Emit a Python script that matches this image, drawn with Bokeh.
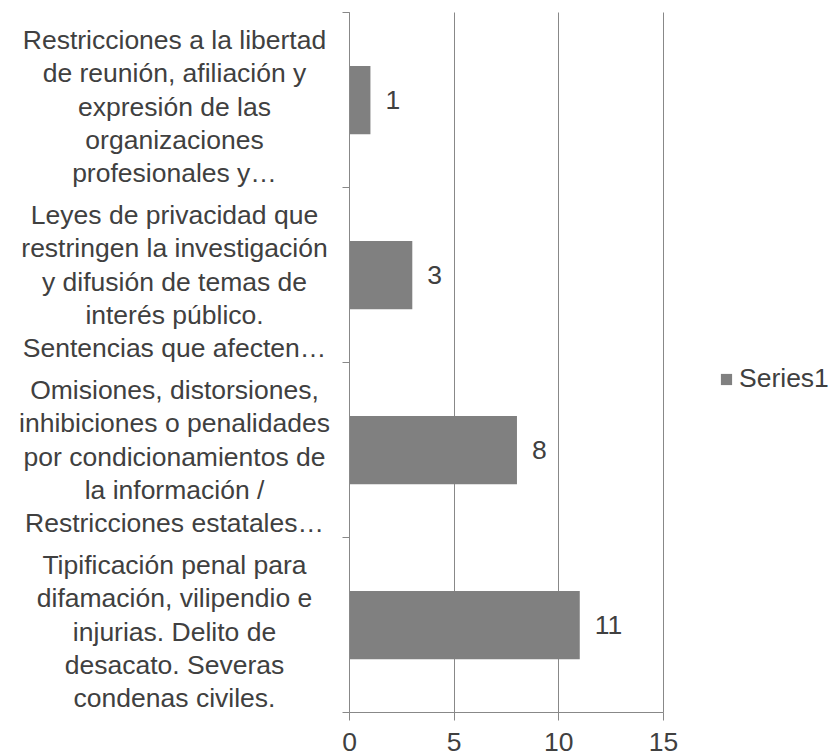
from bokeh.plotting import figure
from bokeh.models import (Range1d, FixedTicker, ColumnDataSource, Legend, LegendItem,
                          CustomJSTickFormatter)
from bokeh.embed import file_html
from bokeh.resources import INLINE
from bokeh.core.properties import value

# ---------------- data ----------------
category_lines = [
    ["Restricciones a la libertad", "de reunión, afiliación y", "expresión de las",
     "organizaciones", "profesionales y…"],
    ["Leyes de privacidad que", "restringen la investigación", "y difusión de temas de",
     "interés público.", "Sentencias que afecten…"],
    ["Omisiones, distorsiones,", "inhibiciones o penalidades", "por condicionamientos de",
     "la información /", "Restricciones estatales…"],
    ["Tipificación penal para", "difamación, vilipendio e", "injurias. Delito de",
     "desacato. Severas", "condenas civiles."],
]
values = [1, 3, 8, 11]
x_ticks = [0, 5, 10, 15]
series_name = "Series1"

# ---------------- styling / layout ----------------
FONT = "Liberation Sans"
TEXT_COLOR = "#404040"
BAR_COLOR = "#808080"
LINE_COLOR = "#888888"
FS = "26.5px"

W, H = 829, 756
X0_PX, X15_PX = 349, 663        # pixel position of value 0 and 15
TOP_PX, BOTTOM_PX = 12, 712     # top / bottom of the category area
x_max = 15
ppu = (X15_PX - X0_PX) / x_max
n = len(values)
ppc = (BOTTOM_PX - TOP_PX) / n

x_range = Range1d(-X0_PX / ppu, (W - X0_PX) / ppu)
y_range = Range1d(-(H - BOTTOM_PX) / ppc, n + TOP_PX / ppc)

p = figure(width=W, height=H, output_backend="svg", toolbar_location=None,
           x_range=x_range, y_range=y_range,
           min_border_left=0, min_border_right=0,
           min_border_top=0, min_border_bottom=0)
p.outline_line_color = None
p.background_fill_color = "white"
p.border_fill_color = "white"

ypos = [n - 0.5 - i for i in range(n)]

# grid (vertical lines only over the category area)
p.ygrid.grid_line_color = None
p.xgrid.ticker = FixedTicker(ticks=x_ticks)
p.xgrid.grid_line_color = LINE_COLOR
p.xgrid.cross_bounds = (0, n)

src = ColumnDataSource(dict(y=ypos, v=values, t=[str(v) for v in values]))
bars = p.hbar(y="y", right="v", left=0, height=0.39, source=src,
              fill_color=BAR_COLOR, line_color=None)

p.text(x="v", y="y", text="t", source=src, x_offset=15,
       text_align="left", text_baseline="middle",
       text_font=value(FONT), text_font_size=FS, text_color=TEXT_COLOR)

# x axis at value-axis origin
xa = p.xaxis[0]
xa.fixed_location = 0
xa.bounds = (0, x_max)
xa.ticker = FixedTicker(ticks=x_ticks)
xa.axis_line_color = LINE_COLOR
xa.major_tick_line_color = LINE_COLOR
xa.major_tick_in = 0
xa.major_tick_out = 8
xa.minor_tick_line_color = None
xa.major_label_text_font = FONT
xa.major_label_text_font_size = FS
xa.major_label_text_color = TEXT_COLOR
xa.major_label_standoff = 12

# category axis: ticks at category boundaries, labels drawn separately
ya = p.yaxis[0]
ya.fixed_location = 0
ya.bounds = (0, n)
ya.ticker = FixedTicker(ticks=list(range(n + 1)))
ya.formatter = CustomJSTickFormatter(code="return ''")
ya.axis_line_color = LINE_COLOR
ya.major_tick_line_color = LINE_COLOR
ya.major_tick_in = 0
ya.major_tick_out = 7
ya.minor_tick_line_color = None

# category labels, line by line, centred left of the axis
label_center_x = (174 - X0_PX) / ppu
line_gap = 33.25
lx, ly, lt = [], [], []
for yc, lines in zip(ypos, category_lines):
    m = len(lines)
    for k, line in enumerate(lines):
        down = 6.5 + (k - (m - 1) / 2) * line_gap
        lx.append(label_center_x)
        ly.append(yc - down / ppc)
        lt.append(line)
p.text(x=lx, y=ly, text=lt, text_align="center", text_baseline="alphabetic",
       text_font=value(FONT), text_font_size=FS, text_color=TEXT_COLOR)

legend = Legend(items=[LegendItem(label=series_name, renderers=[bars])],
                location=(719, H - 379 - 15), glyph_width=14, glyph_height=14,
                label_text_font=FONT, label_text_font_size=FS,
                label_text_color=TEXT_COLOR, label_standoff=6,
                border_line_color=None, background_fill_alpha=0,
                padding=0, margin=0, spacing=0)
p.add_layout(legend, "center")

open("out.html", "w").write(file_html(p, INLINE))
